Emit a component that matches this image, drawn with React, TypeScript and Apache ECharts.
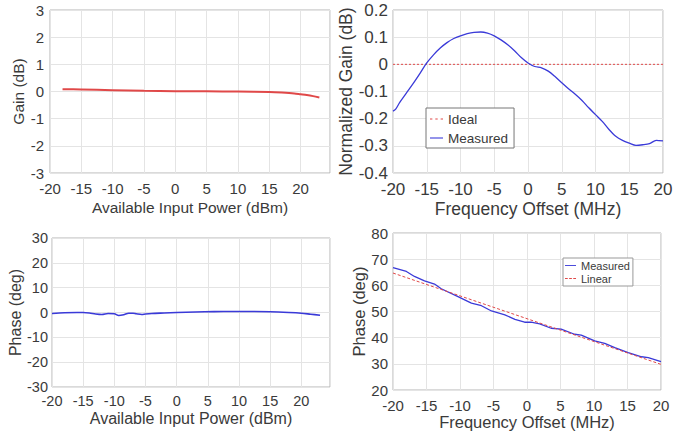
import React, { useEffect, useRef } from "react";
import * as echarts from "echarts";

const FONT = "'Liberation Sans', Arial, Helvetica, sans-serif";
const TEXT = "#3a3a3a";
const GRIDLINE = "#e4e4e4";
const BORDER = "#b4b4b4";
const RED = "#e04848";
const BLUE = "#3a3ad8";

// Top-left: Gain vs available input power
const gainPower = [-18, -15, -10, -5, 0, 5, 10, 15, 17, 19, 20, 21, 22, 23];
const gainDb = [0.085, 0.075, 0.05, 0.025, 0.01, 0.005, 0.0, -0.02, -0.04, -0.07, -0.1, -0.13, -0.17, -0.22];

// Top-right: normalized gain vs frequency offset
const freqGain = [-20, -19.6, -19, -18, -17, -16, -15, -14, -13, -12, -11, -10, -9, -8, -7, -6, -5, -4, -3, -2, -1, 0, 1, 2, 3, 4, 5, 6, 7, 8, 9, 10, 11, 12, 13, 14, 15, 16, 17, 18, 19, 20];
const normGain = [-0.172, -0.165, -0.14, -0.105, -0.07, -0.033, 0.005, 0.035, 0.06, 0.08, 0.095, 0.105, 0.113, 0.118, 0.119, 0.115, 0.105, 0.09, 0.072, 0.05, 0.025, 0.005, -0.008, -0.013, -0.025, -0.045, -0.068, -0.09, -0.11, -0.133, -0.16, -0.185, -0.21, -0.24, -0.265, -0.28, -0.29, -0.298, -0.296, -0.292, -0.28, -0.282];
const idealFreq = [-20, 20];
const idealGain = [0, 0];

// Bottom-left: phase vs available input power
const phasePower = [-20, -18, -16, -15, -14, -13, -12, -11, -10, -9.3, -8.5, -7.7, -7, -6.5, -5.6, -5, -4, -2, 0, 3, 6, 9, 12, 15, 18, 20, 21.5, 23];
const phaseDeg = [-0.4, -0.1, 0, 0, -0.2, -0.6, -0.8, -0.4, -0.5, -1.2, -0.9, -0.3, -0.3, -0.5, -0.8, -0.6, -0.4, -0.2, 0, 0.2, 0.35, 0.4, 0.4, 0.3, 0, -0.3, -0.7, -1.1];

// Bottom-right: phase vs frequency offset
const freqPhase = [-20, -18, -16.8, -15.3, -13.8, -12.8, -10.3, -8.3, -6.8, -5.3, -3.3, -1.8, -0.35, 0.6, 1.9, 3.6, 5.1, 7.1, 8.1, 10.1, 11.6, 13.1, 15.1, 17.1, 18.1, 20];
const measPhase = [66.8, 65.3, 63.4, 61.7, 60.5, 58.7, 55.7, 53.2, 52.2, 50.2, 48.7, 47.0, 45.9, 45.9, 45.3, 43.6, 43.3, 41.3, 41.0, 38.75, 37.85, 36.2, 34.3, 32.7, 32.4, 30.8];
const linearFreq = [-20, 20];
const linearPhase = [64.7, 29.8];

const zip = (xs: number[], ys: number[]) => xs.map((x, i) => [x, ys[i]]);

const SOLID_ICON = "path://M0,0h12v1h-12z";
const DOTTED_ICON = "path://M0,0h2v1h-2z M4.5,0h2v1h-2z M9,0h2v1h-2z";
const DASHED_ICON = "path://M0,0h3v1h-3z M4.5,0h3v1h-3z M9,0h3v1h-3z";

function xAxis(gridIndex: number, min: number, max: number, name: string, fontSize: number, nameSize: number, nameGap: number, margin: number) {
  return {
    type: "value",
    gridIndex,
    min,
    max,
    interval: 5,
    name,
    nameLocation: "middle",
    nameGap,
    nameTextStyle: { fontSize: nameSize, color: TEXT, fontFamily: FONT },
    axisLine: { show: false },
    axisTick: { show: false },
    axisLabel: {
      fontSize,
      color: TEXT,
      fontFamily: FONT,
      margin,
      formatter: (v: number) => (Math.abs(v % 5) < 1e-9 ? String(v) : ""),
    },
    splitLine: { show: true, lineStyle: { color: GRIDLINE, width: 1 } },
  };
}

function yAxis(gridIndex: number, min: number, max: number, interval: number, name: string, fontSize: number, nameSize: number, nameGap: number, margin: number) {
  return {
    type: "value",
    gridIndex,
    min,
    max,
    interval,
    name,
    nameLocation: "middle",
    nameGap,
    nameTextStyle: { fontSize: nameSize, color: TEXT, fontFamily: FONT },
    axisLine: { show: false },
    axisTick: { show: false },
    axisLabel: { fontSize, color: TEXT, fontFamily: FONT, margin },
    splitLine: { show: true, lineStyle: { color: GRIDLINE, width: 1 } },
  };
}

const gridBase = { show: true, borderColor: BORDER, borderWidth: 1, backgroundColor: "#fff", containLabel: false };

export default function App() {
  const ref = useRef<HTMLDivElement>(null);
  useEffect(() => {
    if (!ref.current) return;
    const chart = echarts.init(ref.current, undefined, { renderer: "svg" });
    chart.setOption({
      animation: false,
      backgroundColor: "#fff",
      grid: [
        { ...gridBase, left: 50, top: 10, width: 280, height: 163 },
        { ...gridBase, left: 393, top: 10, width: 270, height: 163 },
        { ...gridBase, left: 52, top: 238, width: 278, height: 149 },
        { ...gridBase, left: 393, top: 233, width: 268, height: 157 },
      ],
      xAxis: [
        xAxis(0, -20, 24.7, "Available Input Power (dBm)", 15, 15.5, 26, 8),
        xAxis(1, -20, 20, "Frequency Offset (MHz)", 17, 17.5, 27, 8),
        xAxis(2, -20, 24.6, "Available Input Power (dBm)", 14.5, 16, 23, 6),
        xAxis(3, -20, 20, "Frequency Offset (MHz)", 15, 16.5, 23, 8),
      ],
      yAxis: [
        yAxis(0, -3, 3, 1, "Gain (dB)", 15, 15.5, 20, 6),
        yAxis(1, -0.4, 0.2, 0.1, "Normalized Gain (dB)", 17, 17.5, 36, 5),
        yAxis(2, -30, 30, 10, "Phase (deg)", 14.5, 16, 21, 4),
        yAxis(3, 20, 80, 10, "Phase (deg)", 15, 16.5, 23, 5),
      ],
      legend: [
        {
          data: [
            { name: "Ideal", icon: DOTTED_ICON },
            { name: "Measured", icon: SOLID_ICON },
          ],
          orient: "vertical",
          left: 426,
          top: 108,
          itemWidth: 13,
          itemHeight: 10,
          itemGap: 5,
          padding: [4, 6, 3, 4],
          borderColor: "#777",
          borderWidth: 1,
          backgroundColor: "#fff",
          selectedMode: false,
          textStyle: { fontSize: 13.5, color: TEXT, fontFamily: FONT },
        },
        {
          data: [
            { name: "Measured", icon: SOLID_ICON },
            { name: "Linear", icon: DASHED_ICON },
          ],
          orient: "vertical",
          left: 563,
          top: 258,
          itemWidth: 11,
          itemHeight: 8,
          itemGap: 2,
          padding: [2, 3, 2, 2],
          borderColor: "#999",
          borderWidth: 1,
          backgroundColor: "#fff",
          selectedMode: false,
          textStyle: { fontSize: 11, color: TEXT, fontFamily: FONT },
        },
      ],
      series: [
        {
          type: "line",
          name: "Gain",
          xAxisIndex: 0,
          yAxisIndex: 0,
          data: zip(gainPower, gainDb),
          symbol: "none",
          smooth: 0.3,
          lineStyle: { color: RED, width: 2 },
          itemStyle: { color: RED },
        },
        {
          type: "line",
          name: "Ideal",
          xAxisIndex: 1,
          yAxisIndex: 1,
          data: zip(idealFreq, idealGain),
          symbol: "none",
          lineStyle: { color: RED, width: 1, type: [2, 2] },
          itemStyle: { color: RED },
        },
        {
          type: "line",
          name: "Measured",
          xAxisIndex: 1,
          yAxisIndex: 1,
          data: zip(freqGain, normGain),
          symbol: "none",
          smooth: 0.3,
          lineStyle: { color: BLUE, width: 1.3 },
          itemStyle: { color: BLUE },
        },
        {
          type: "line",
          name: "Phase",
          xAxisIndex: 2,
          yAxisIndex: 2,
          data: zip(phasePower, phaseDeg),
          symbol: "none",
          smooth: 0.3,
          lineStyle: { color: BLUE, width: 1.6 },
          itemStyle: { color: BLUE },
        },
        {
          type: "line",
          name: "Measured",
          xAxisIndex: 3,
          yAxisIndex: 3,
          data: zip(freqPhase, measPhase),
          symbol: "none",
          lineStyle: { color: BLUE, width: 1.3 },
          itemStyle: { color: BLUE },
        },
        {
          type: "line",
          name: "Linear",
          xAxisIndex: 3,
          yAxisIndex: 3,
          data: zip(linearFreq, linearPhase),
          symbol: "none",
          lineStyle: { color: RED, width: 1, type: [3, 2] },
          itemStyle: { color: RED },
        },
      ],
    });
    return () => chart.dispose();
  }, []);
  return (
    <div
      ref={ref}
      style={{ position: "absolute", left: 0, top: 0, width: 696, height: 436, background: "#fff" }}
    />
  );
}
